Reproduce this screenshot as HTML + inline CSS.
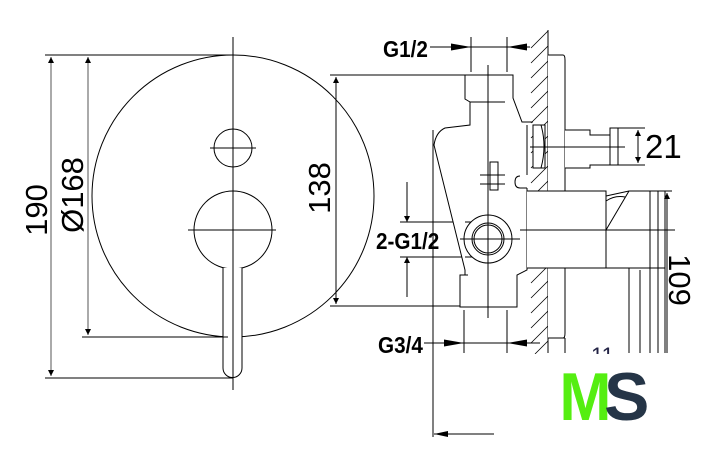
<!DOCTYPE html>
<html><head><style>
html,body{margin:0;padding:0;background:#fff;}
svg{display:block;}
</style></head><body>
<svg width="718" height="463" viewBox="0 0 718 463" xmlns="http://www.w3.org/2000/svg">
<defs>
<marker id="a" viewBox="0 0 10 10" refX="10" refY="5" markerWidth="6" markerHeight="8" orient="auto-start-reverse" markerUnits="userSpaceOnUse"><path d="M0,0 L10,5 L0,10z" fill="#000"/></marker>
</defs>
<g stroke="#000" fill="none" stroke-width="1">
<circle cx="233" cy="196" r="141"/>
<line x1="233" y1="37" x2="233" y2="390"/>
<circle cx="233" cy="148" r="19"/>
<line x1="210" y1="148" x2="256" y2="148"/>
<circle cx="233" cy="230" r="39"/>
<line x1="188" y1="230" x2="276" y2="230"/>
<path d="M223,268 V368 A9.5,9.5 0 0 0 242,368 V268" fill="#fff"/>
<line x1="233" y1="268" x2="233" y2="390"/>
<line x1="45" y1="55" x2="233" y2="55"/>
<line x1="45" y1="378" x2="233" y2="378"/>
<line x1="82" y1="337" x2="228" y2="337"/>
<line x1="51" y1="57" x2="51" y2="376" marker-start="url(#a)" marker-end="url(#a)" stroke="#555"/>
<line x1="88" y1="57" x2="88" y2="335" marker-start="url(#a)" marker-end="url(#a)" stroke="#555"/>
<line x1="330" y1="75" x2="470" y2="75"/>
<line x1="330" y1="306" x2="462" y2="306"/>
<line x1="336" y1="77" x2="336" y2="304" marker-start="url(#a)" marker-end="url(#a)"/>
<line x1="400" y1="222" x2="480" y2="222"/>
<line x1="400" y1="257" x2="480" y2="257"/>
<line x1="407" y1="182" x2="407" y2="222" marker-end="url(#a)"/>
<line x1="407" y1="297" x2="407" y2="257" marker-end="url(#a)"/>
<line x1="548" y1="30" x2="548" y2="353"/>
<g stroke-width="0.8">
<path d="M531,48 L548,31 M531,63 L548,46 M531,78 L548,61 M531,93 L548,76 M531,108 L548,91 M531,123 L548,106 M531,138 L548,121 M531,153 L548,136 M531,168 L548,151 M531,183 L548,166 M531,198 L548,181 M531,283 L548,266 M531,298 L548,281 M531,313 L548,296 M531,328 L548,311 M531,343 L548,326 M535,354 L548,341"/>
</g>
<path d="M548,55 H563 Q565,55 565,60 V333 Q565,338 563,338 H548" fill="#fff"/>
<line x1="548" y1="338" x2="565" y2="338"/>
<line x1="565" y1="338" x2="565" y2="353"/>
<path d="M465,75 H513 V98 L522,122 H533 M465,75 V99 L470,102 V125 L445,128 Q436,132 434,145 L465,270 V275 M527,125 V175 M520,176 Q515,176 515,182 Q515,188 520,188 H527 M527,188 V270 L517,275 V307 H460 V275 H468" fill="#fff"/>
<line x1="470" y1="102" x2="505" y2="102"/>
<path d="M533,125 H545 V168 H533 Z" fill="#fff"/>
<path d="M541,125 Q547,146 541,168"/>
<line x1="527" y1="128" x2="527" y2="168"/>
<rect x="490" y="162" width="8" height="28"/>
<line x1="480" y1="175" x2="505" y2="175"/>
<line x1="480" y1="184" x2="505" y2="184"/>
<path d="M565,130 H590 V135 H610 V165 H590 V168 H565" fill="#fff"/>
<rect x="610" y="128" width="8" height="37"/>
<line x1="530" y1="147" x2="625" y2="147"/>
<line x1="612" y1="128" x2="645" y2="128"/>
<line x1="612" y1="165" x2="645" y2="165"/>
<line x1="638" y1="130" x2="638" y2="163" marker-start="url(#a)" marker-end="url(#a)"/>
<path d="M527,191 H606 V268 H527" fill="#fff"/>
<path d="M606,196 L629,191 H665 M606,230 L629,191 M606,268 L629,268 H665"/>
<path d="M606,201 Q615,195 625,197"/>
<line x1="658" y1="191" x2="658" y2="353"/>
<line x1="665" y1="191" x2="665" y2="353"/>
<line x1="650" y1="191" x2="650" y2="353"/>
<line x1="629" y1="268" x2="629" y2="353"/>
<line x1="640" y1="270" x2="640" y2="353"/>
<line x1="520" y1="230" x2="675" y2="230"/>
<line x1="665" y1="191" x2="672" y2="191"/>
<line x1="667" y1="193" x2="667" y2="353" marker-start="url(#a)"/>
<circle cx="488" cy="239" r="24" fill="#fff"/>
<circle cx="488" cy="239" r="16"/>
<circle cx="488" cy="239" r="14"/>
<line x1="488" y1="65" x2="488" y2="318"/>
<line x1="460" y1="239" x2="520" y2="239"/>
<line x1="433" y1="130" x2="433" y2="437"/>
<line x1="471" y1="37" x2="471" y2="72"/>
<line x1="507" y1="37" x2="507" y2="72"/>
<line x1="430" y1="47" x2="530" y2="47"/>
<line x1="464" y1="310" x2="464" y2="353"/>
<line x1="507" y1="310" x2="507" y2="353"/>
<line x1="424" y1="343" x2="540" y2="343"/>
<line x1="494" y1="434" x2="434" y2="434"/>
</g>
<g fill="#000">
<polygon points="471,47 451,43.5 451,50.5"/>
<polygon points="507,47 527,43.5 527,50.5"/>
<polygon points="464,343 444,339.5 444,346.5"/>
<polygon points="507,343 527,339.5 527,346.5"/>
<polygon points="434,434 448,431 448,437"/>
</g>
<g font-family="'Liberation Sans',sans-serif" fill="#000">
<text transform="translate(383,57) scale(0.9,1)" font-size="23" font-weight="bold">G1/2</text>
<text transform="translate(378,353) scale(0.9,1)" font-size="23" font-weight="bold">G3/4</text>
<text transform="translate(376,249) scale(0.9,1)" font-size="23" font-weight="bold">2-G1/2</text>
<text x="645" y="158" font-size="33">21</text>
<text x="591" y="363" font-size="22" fill="#224">11</text>
<text transform="translate(47,210) rotate(-90)" font-size="31" text-anchor="middle">190</text>
<text transform="translate(83,195) rotate(-90)" font-size="31" text-anchor="middle">Ø168</text>
<text transform="translate(330,188) rotate(-90)" font-size="31" text-anchor="middle">138</text>
<text transform="translate(669,280) rotate(90)" font-size="31" text-anchor="middle">109</text>
</g>
<rect x="440" y="354" width="278" height="70" fill="#fff"/>
<line x1="433" y1="354" x2="433" y2="437" stroke="#000"/>
<g font-family="'Liberation Sans',sans-serif" font-weight="bold" font-size="68">
<text x="560" y="420" fill="#55ee11" transform="scale(0.92,1) translate(48,0)">M</text>
<text x="604" y="420" fill="#253547">S</text>
</g>
</svg>
</body></html>
